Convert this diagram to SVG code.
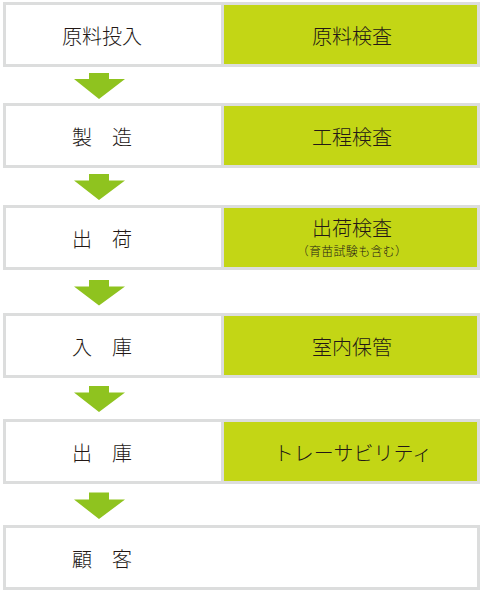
<svg xmlns="http://www.w3.org/2000/svg" width="482" height="592" viewBox="0 0 482 592">
<style>
.frame{fill:#dcdddd}
.w{fill:#ffffff}
.g{fill:#c3d615}
.arr{fill:#8fc31f}
text{font-family:"Noto Sans CJK JP","Noto Sans CJK SC",sans-serif;font-weight:300;fill:#231815;text-anchor:middle}
.t{font-size:20px}
.s{font-size:12px;letter-spacing:0.3px}
</style>
<rect width="482" height="592" fill="#ffffff"/>
<g id="row1">
<rect class="frame" x="3" y="2" width="477" height="65"/>
<rect class="w" x="6" y="5" width="215" height="59"/>
<rect class="g" x="224" y="5" width="253" height="59"/>
<text class="t" x="102" y="43.5">原料投入</text>
<text class="t" x="352" y="43.5">原料検査</text>
</g>
<g id="row2">
<rect class="frame" x="3" y="103" width="477" height="65"/>
<rect class="w" x="6" y="106" width="215" height="59"/>
<rect class="g" x="224" y="106" width="253" height="59"/>
<text class="t" x="102" y="144.5">製　造</text>
<text class="t" x="352" y="144.5">工程検査</text>
</g>
<g id="row3">
<rect class="frame" x="3" y="205" width="477" height="65"/>
<rect class="w" x="6" y="208" width="215" height="59"/>
<rect class="g" x="224" y="208" width="253" height="59"/>
<text class="t" x="102" y="246.5">出　荷</text>
<text class="t" x="352" y="235.5">出荷検査</text>
<text class="s" x="352" y="256">（育苗試験も含む）</text>
</g>
<g id="row4">
<rect class="frame" x="3" y="313" width="477" height="65"/>
<rect class="w" x="6" y="316" width="215" height="59"/>
<rect class="g" x="224" y="316" width="253" height="59"/>
<text class="t" x="102" y="354.5">入　庫</text>
<text class="t" x="352" y="354.5">室内保管</text>
</g>
<g id="row5">
<rect class="frame" x="3" y="419" width="477" height="65"/>
<rect class="w" x="6" y="422" width="215" height="59"/>
<rect class="g" x="224" y="422" width="253" height="59"/>
<text class="t" x="102" y="460.5">出　庫</text>
<text class="t" x="353" y="460.5">トレーサビリティ</text>
</g>
<g id="row6">
<rect class="frame" x="3" y="525" width="477" height="65"/>
<rect class="w" x="6" y="528" width="471" height="59"/>
<text class="t" x="102" y="566.5">顧　客</text>
</g>
<g id="connectors">
<path class="arr" d="M89 73H109V79H125L99 99L74 79H89Z"/>
<path class="arr" d="M89 174H109V180.5H125L99 200L74 180.5H89Z"/>
<path class="arr" d="M89 280H109V286.5H125L99 305.5L74 286.5H89Z"/>
<path class="arr" d="M89 386H109V392.5H125L99 412L74 392.5H89Z"/>
<path class="arr" d="M89 492.5H109V499.5H125L99 519L74 499.5H89Z"/>
</g>
</svg>
